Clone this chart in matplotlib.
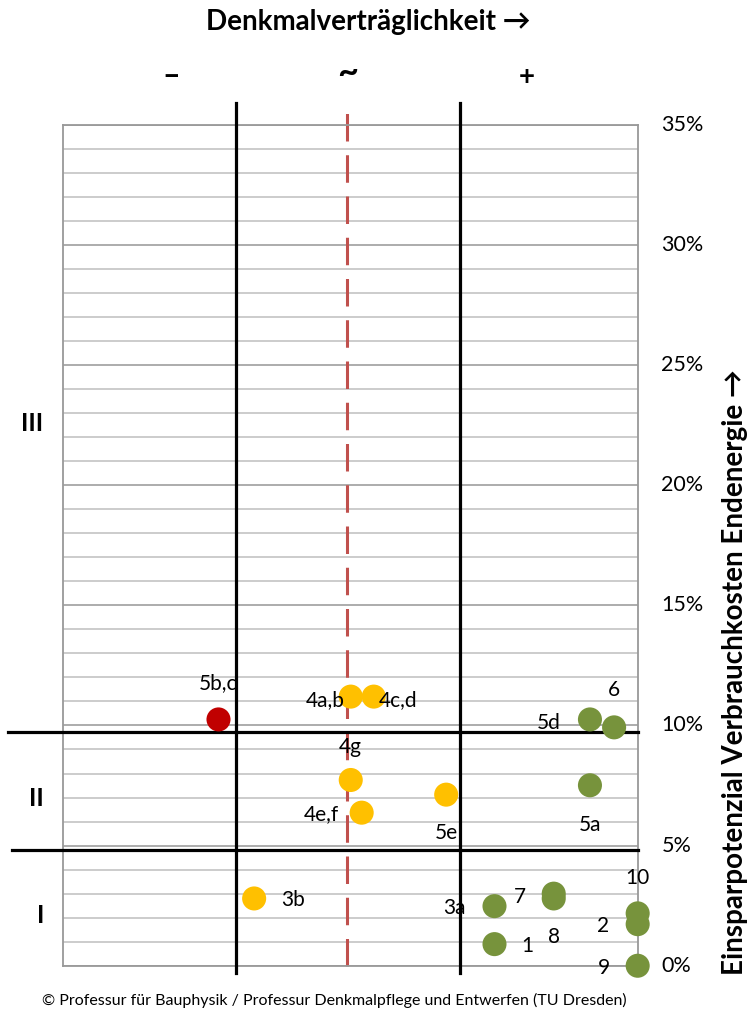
import matplotlib
matplotlib.use("Agg")
import matplotlib.pyplot as plt

plt.rcParams['font.family'] = ['Lato', 'DejaVu Sans']

# measures: x = Denkmalvertraeglichkeit (0..10), y = Einsparpotenzial in %
labels = ['5b,c', '4a,b', '4c,d', '4g', '4e,f', '5e', '3b',
          '5d', '6', '5a', '3a', '7', '8', '1', '10', '2', '9']
x_vals = [2.71, 5.01, 5.41, 5.01, 5.20, 6.67, 3.33,
          9.17, 9.59, 9.17, 7.51, 8.54, 8.54, 7.51, 10.0, 10.0, 10.0]
y_vals = [10.25, 11.2, 11.2, 7.73, 6.37, 7.12, 2.80,
          10.25, 9.92, 7.51, 2.48, 3.0, 2.8, 0.9, 2.18, 1.73, 0.0]
groups = ['r', 'y', 'y', 'y', 'y', 'y', 'y',
          'g', 'g', 'g', 'g', 'g', 'g', 'g', 'g', 'g', 'g']

y_ticks = [0, 5, 10, 15, 20, 25, 30, 35]
y_ticklabels = ['0%', '5%', '10%', '15%', '20%', '25%', '30%', '35%']
col_symbols = ['–', '~', '+']
classes = ['I', 'II', 'III']

# label offsets in pixels (dx, dy)
offsets = [(0, 36), (-26, -3), (24, -3), (0, 33), (-40, -1), (0, -38), (39, -2),
           (-41, -4), (0, 37), (0, -40), (-40, -2), (-34, -3), (0, -39), (33, -2),
           (0, 35), (-35, -2), (-34, -2)]

colors = {'r': '#C00000', 'y': '#FFC000', 'g': '#77933C'}

fig = plt.figure(figsize=(7.55, 10.17), dpi=100)
ax = fig.add_axes([0.0830, 0.0504, 0.7616, 0.8270])
ax.set_xlim(0, 10)
ax.set_ylim(0, 35)

# grid
for v in range(0, 36):
    major = v % 5 == 0
    ax.axhline(v, color='#A6A6A6' if major else '#C8C8C8', lw=1.3, zorder=1)
for s in ax.spines.values():
    s.set_color('#999999')
    s.set_linewidth(1.3)

ax.set_xticks([])
ax.yaxis.tick_right()
ax.set_yticks(y_ticks)
ax.set_yticklabels(y_ticklabels, fontsize=15.5)
ax.tick_params(axis='y', length=0, pad=17)
for t in ax.get_yticklabels():
    t.set_va('center')

# dividing lines
for xv in [3.01, 6.91]:
    ax.plot([xv, xv], [-0.3, 35.9], color='black', lw=2.3, clip_on=False, zorder=3)
ax.plot([4.95, 4.95], [0, 36.0], color='#C0504D', lw=2.2, ls=(0, (9, 4.5)),
        clip_on=False, zorder=2)
ax.plot([-0.95, 10], [9.74, 9.74], color='black', lw=2.3, clip_on=False, zorder=3)
ax.plot([-0.88, 10], [4.81, 4.81], color='black', lw=2.3, clip_on=False, zorder=3)

# points
ax.scatter(x_vals, y_vals, s=300, c=[colors[g] for g in groups],
           edgecolors='none', zorder=4, clip_on=False)
for lab, xv, yv, off in zip(labels, x_vals, y_vals, offsets):
    ax.annotate(lab, (xv, yv), xytext=off, textcoords='offset pixels',
                ha='center', va='center', fontsize=15, zorder=5)

# class labels
for cl, xv, yv in zip(classes, [-0.38, -0.45, -0.54], [2.09, 6.98, 22.55]):
    ax.text(xv, yv, cl, ha='center', va='center', fontsize=18,
            fontweight='bold', clip_on=False)

for sym, xf, yf, fs in zip(col_symbols, [0.2265, 0.461, 0.698],
                           [0.9253, 0.9290, 0.9243], [22, 26, 20]):
    fig.text(xf, yf, sym, ha='center', va='center', fontsize=fs,
             fontweight='bold')

fig.text(0.4874, 0.9784, 'Denkmalverträglichkeit →', ha='center', va='center',
         fontsize=20, fontweight='bold')
fig.text(0.9735, 0.3392, 'Einsparpotenzial Verbrauchkosten Endenergie →',
         rotation=90, ha='center', va='center', fontsize=20, fontweight='bold')
fig.text(0.4424, 0.0167,
         '© Professur für Bauphysik / Professur Denkmalpflege und Entwerfen (TU Dresden)',
         ha='center', va='center', fontsize=11.5)

fig.savefig('out.png', dpi=100)
